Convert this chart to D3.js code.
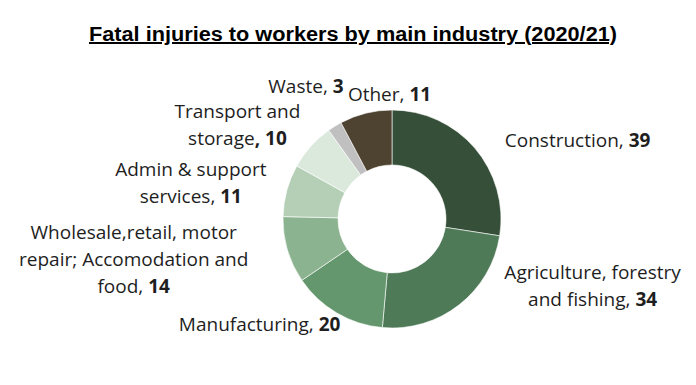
<!DOCTYPE html>
<html>
<head>
<meta charset="utf-8">
<script src="https://cdn.jsdelivr.net/npm/d3@7"></script>
<style>
  body { margin: 0; background: #fff; }
  svg text { font-family: "Open Sans", "Noto Sans", sans-serif; }
</style>
</head>
<body>
<svg width="696" height="385"></svg>
<script>
var industries = ["Construction", "Agriculture, forestry and fishing", "Manufacturing",
  "Wholesale,retail, motor repair; Accomodation and food", "Admin & support services",
  "Transport and storage", "Waste", "Other"];
var fatalities = [39, 34, 20, 14, 11, 10, 3, 11];
// how each label is broken into lines (last line gets the value)
var labelLines = [
  ["Construction, "],
  ["Agriculture, forestry", "and fishing, "],
  ["Manufacturing, "],
  ["Wholesale,retail, motor", "repair; Accomodation and", "food, "],
  ["Admin & support", "services, "],
  ["Transport and", "storage"],
  ["Waste, "],
  ["Other, "]
];
var colors = ["#354f39", "#4f7a58", "#64976d", "#8cb38f", "#b5cfb6", "#dbe8dc", "#c0c0c0", "#4e4330"];

var svg = d3.select("svg"),
  width = +svg.attr("width"),
  height = +svg.attr("height");

var cx = 392, cy = 219, outerR = 109, innerR = 54;

svg.append("text")
  .attr("x", 353)
  .attr("y", 41)
  .attr("text-anchor", "middle")
  .attr("textLength", 528)
  .attr("lengthAdjust", "spacingAndGlyphs")
  .style("font-family", "'Liberation Sans', Arial, sans-serif")
  .style("font-weight", "bold")
  .style("font-size", "20px")
  .style("text-decoration", "underline")
  .attr("fill", "#000")
  .text("Fatal injuries to workers by main industry (2020/21)");

var data = industries.map(function (d, i) {
  return { name: d, value: fatalities[i], lines: labelLines[i], color: colors[i] };
});

var pie = d3.pie().sort(null).value(function (d) { return d.value; });
var arc = d3.arc().innerRadius(innerR).outerRadius(outerR);
var arcs = pie(data);

var g = svg.append("g").attr("transform", "translate(" + cx + "," + cy + ")");

g.selectAll("path")
  .data(arcs)
  .enter().append("path")
  .attr("d", arc)
  .attr("fill", function (d) { return d.data.color; })
  .attr("stroke", "#fff")
  .attr("stroke-width", 0.6);

// labels sit on a ring outside the donut, nudged like the original layout
var labelArc = d3.arc().innerRadius(outerR + 30).outerRadius(outerR + 30);
var nudge = [[80, 12], [115, -42], [-62, -14], [-125, 2], [-67, 1], [-51, -1], [-13, -14], [31, 11]];
var lineH = 27;

var labels = g.selectAll("text.lbl")
  .data(arcs)
  .enter().append("text")
  .attr("class", "lbl")
  .attr("text-anchor", "middle")
  .style("font-size", "19px")
  .attr("fill", "#1e1e1e")
  .attr("transform", function (d, i) {
    var c = labelArc.centroid(d);
    var n = d.data.lines.length;
    var x = c[0] + nudge[i][0];
    var y = c[1] + nudge[i][1] - (n - 1) * lineH / 2 + 6;
    return "translate(" + x + "," + y + ")";
  });

labels.each(function (d) {
  var t = d3.select(this);
  var lines = d.data.lines;
  lines.forEach(function (line, j) {
    t.append("tspan").attr("x", 0).attr("dy", j === 0 ? 0 : lineH).text(line);
    if (j === lines.length - 1) {
      var tail = /, $/.test(line) ? "" : ", ";
      t.append("tspan").style("font-weight", "bold").text(tail + d.data.value);
    }
  });
});
</script>
</body>
</html>
